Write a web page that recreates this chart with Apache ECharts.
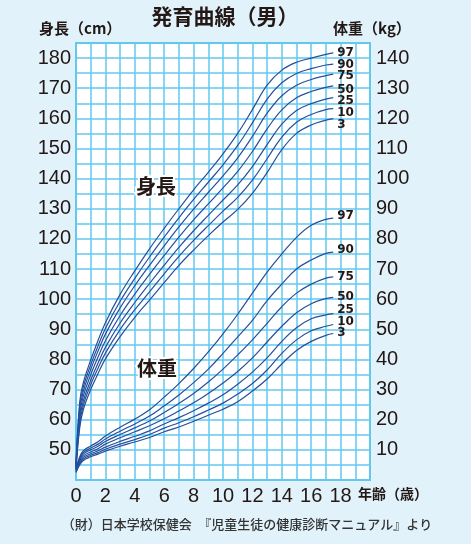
<!DOCTYPE html>
<html>
<head>
<meta charset="utf-8">
<script src="https://cdn.jsdelivr.net/npm/echarts@6/dist/echarts.min.js"></script>
<style>
  html, body { margin: 0; padding: 0; background: #e1f2fb; }
  #chart { width: 471px; height: 544px; }
</style>
</head>
<body>
<div id="chart"></div>
<script>
// age (years) for every point of the curves
const ages = [0, 0.25, 0.5, 1, 1.5, 2, 3, 4, 5, 6, 7, 8, 9, 10, 11, 12, 13, 14, 15, 16, 17, 17.5];

// height percentiles (cm)
const height3  = [43.5, 57.2, 63.4, 70.0, 75.3, 80.2, 87.6, 94.0, 99.7, 105.5, 111.2, 116.3, 121.1, 125.6, 129.8, 135.1, 142.0, 149.6, 155.0, 157.8, 159.4, 159.9];
const height10 = [43.8, 58.6, 64.8, 71.6, 77.1, 82.1, 89.9, 96.5, 102.4, 108.4, 114.2, 119.5, 124.4, 129.2, 133.8, 139.5, 146.6, 153.8, 158.7, 161.3, 162.9, 163.2];
const height25 = [44.1, 60.0, 66.3, 73.1, 78.8, 84.0, 92.1, 98.9, 105.2, 111.3, 117.2, 122.7, 127.8, 132.9, 137.9, 144.0, 151.3, 158.1, 162.6, 164.9, 166.4, 166.9];
const height50 = [44.4, 61.5, 67.9, 74.9, 80.8, 86.2, 94.6, 101.7, 108.2, 114.5, 120.6, 126.3, 131.6, 136.9, 142.4, 149.0, 156.5, 162.8, 166.8, 168.9, 170.3, 170.8];
const height75 = [44.7, 63.0, 69.5, 76.7, 82.8, 88.4, 97.1, 104.5, 111.2, 117.7, 124.0, 129.9, 135.4, 140.9, 146.9, 154.0, 161.7, 167.5, 171.0, 172.9, 174.2, 174.7];
const height90 = [45.0, 64.4, 71.0, 78.2, 84.5, 90.3, 99.3, 106.9, 114.0, 120.6, 127.0, 133.1, 138.8, 144.6, 151.0, 158.5, 166.4, 171.8, 174.9, 176.5, 177.7, 178.0];
const height97 = [45.3, 65.8, 72.4, 79.8, 86.3, 92.2, 101.6, 109.4, 116.7, 123.5, 130.0, 136.3, 142.1, 148.2, 155.0, 162.9, 171.0, 176.0, 178.6, 180.0, 181.2, 181.7];

// weight percentiles (kg)
const weight3  = [2.5, 5.0, 6.5, 7.7, 8.6, 9.6, 11.2, 12.6, 14.1, 16.0, 17.6, 19.5, 21.5, 23.5, 26.0, 29.5, 33.5, 38.5, 43.0, 46.0, 48.0, 48.6];
const weight10 = [2.7, 5.4, 7.0, 8.2, 9.1, 10.2, 11.9, 13.4, 15.1, 17.2, 19.0, 21.0, 23.2, 25.5, 28.5, 32.0, 36.5, 42.0, 46.5, 49.5, 51.0, 51.6];
const weight25 = [2.9, 5.8, 7.5, 8.7, 9.7, 10.9, 12.8, 14.5, 16.3, 18.6, 20.7, 23.0, 25.5, 28.3, 31.8, 35.8, 40.5, 46.0, 50.5, 53.5, 54.8, 55.2];
const weight50 = [3.1, 6.3, 8.0, 9.3, 10.4, 11.9, 14.0, 16.0, 18.0, 20.3, 22.9, 25.6, 28.7, 32.2, 36.0, 40.5, 45.8, 51.0, 55.5, 58.5, 60.2, 60.6];
const weight75 = [3.3, 6.8, 8.6, 10.0, 11.2, 12.8, 15.1, 17.3, 19.6, 22.4, 25.4, 28.7, 32.5, 36.8, 41.5, 46.5, 52.0, 57.5, 62.0, 65.0, 67.0, 67.4];
const weight90 = [3.6, 7.2, 9.1, 10.6, 11.9, 13.6, 16.2, 18.6, 21.2, 24.6, 28.2, 32.3, 36.8, 42.0, 47.5, 53.0, 59.5, 65.0, 70.0, 73.0, 75.2, 75.6];
const weight97 = [3.9, 7.6, 9.7, 11.3, 12.7, 14.6, 17.5, 20.2, 23.3, 27.5, 32.0, 37.0, 42.5, 48.5, 55.0, 62.0, 69.0, 75.0, 80.5, 84.5, 86.5, 86.9];

const percentiles = ['97', '90', '75', '50', '25', '10', '3'];
const heightSets = [height97, height90, height75, height50, height25, height10, height3];
const weightSets = [weight97, weight90, weight75, weight50, weight25, weight10, weight3];

// small vertical nudges of the percentile labels
const heightLabelDy = [0, 1, 2, 4, 3, 4, 6];
const weightLabelDy = [-2, -2, 0, 0, -4, -3, -1];

const gridColor = '#62c9f0';
const lineColor = '#24509c';
const textColor = '#231815';
const numFont = '"Liberation Sans Narrow", "Liberation Sans", sans-serif';
const jpFont = '"Noto Sans CJK JP", sans-serif';

function pairs(values) {
  return ages.map((a, i) => [a, values[i]]);
}

function curve(values, name, axis, dy) {
  return {
    type: 'line',
    name: name,
    yAxisIndex: axis,
    data: pairs(values),
    smooth: 0.4,
    symbol: 'none',
    silent: true,
    lineStyle: { color: lineColor, width: 1.2 },
    endLabel: {
      show: true,
      formatter: p => p.seriesName,
      color: textColor,
      fontSize: 12,
      fontWeight: 'bold',
      fontFamily: '"DejaVu Sans", sans-serif',
      distance: 4,
      offset: [0, dy]
    }
  };
}

const series = [];
percentiles.forEach((p, i) => {
  series.push(curve(heightSets[i], p, 0, heightLabelDy[i]));
  series.push(curve(weightSets[i], p, 1, weightLabelDy[i]));
});

// in-plot captions get a white halo so the grid does not run through them
function caption(text, x, y) {
  return {
    type: 'text', z: 100,
    style: {
      text: text, x: x, y: y, textAlign: 'center', textVerticalAlign: 'middle',
      font: 'bold 20px ' + jpFont, fill: textColor, stroke: '#ffffff', lineWidth: 4
    }
  };
}

const chart = echarts.init(document.getElementById('chart'));
const option = {
  backgroundColor: '#e1f2fb',
  animation: false,
  grid: {
    left: 76,
    right: 101,
    top: 43,
    bottom: 64,
    show: true,
    backgroundColor: '#ffffff',
    borderColor: gridColor,
    borderWidth: 2
  },
  xAxis: {
    type: 'value',
    min: 0,
    max: 20,
    interval: 1,
    axisLine: { show: false },
    axisTick: { show: false },
    splitLine: { lineStyle: { color: gridColor, width: 1.5 } },
    axisLabel: {
      formatter: v => (v % 2 === 0 && v <= 18 ? String(v) : ''),
      fontSize: 20,
      fontFamily: numFont,
      color: textColor,
      margin: 6
    }
  },
  yAxis: [
    {
      type: 'value',
      position: 'left',
      min: 40,
      max: 185,
      interval: 5,
      axisLine: { show: false },
      axisTick: { show: false },
      splitLine: { lineStyle: { color: gridColor, width: 1.5 } },
      axisLabel: {
        formatter: v => (v % 10 === 0 && v >= 50 && v <= 180 ? String(v) : ''),
        fontSize: 20,
        fontFamily: numFont,
        color: textColor,
        margin: 5
      }
    },
    {
      type: 'value',
      position: 'right',
      min: 0,
      max: 145,
      interval: 5,
      axisLine: { show: false },
      axisTick: { show: false },
      splitLine: { show: false },
      axisLabel: {
        formatter: v => (v % 10 === 0 && v >= 10 && v <= 140 ? String(v) : ''),
        fontSize: 20,
        fontFamily: numFont,
        color: textColor,
        margin: 6
      }
    }
  ],
  graphic: [
    { type: 'text', style: { text: '発育曲線（男）', x: 225, y: 16, textAlign: 'center', textVerticalAlign: 'middle', font: 'bold 21px ' + jpFont, fill: textColor } },
    { type: 'text', style: { text: '身長（cm）', x: 39, y: 28, textAlign: 'left', textVerticalAlign: 'middle', font: 'bold 15px ' + jpFont, fill: textColor } },
    { type: 'text', style: { text: '体重（kg）', x: 333, y: 28, textAlign: 'left', textVerticalAlign: 'middle', font: 'bold 15px ' + jpFont, fill: textColor } },
    { type: 'text', style: { text: '年齢（歳）', x: 358, y: 494, textAlign: 'left', textVerticalAlign: 'middle', font: 'bold 14px ' + jpFont, fill: textColor } },
    { type: 'text', style: { text: '（財）日本学校保健会　『児童生徒の健康診断マニュアル』より', x: 247, y: 524, textAlign: 'center', textVerticalAlign: 'middle', font: '500 13px ' + jpFont, fill: '#333333' } },
    caption('身長', 156, 186),
    caption('体重', 157, 368)
  ],
  series: series
};
chart.setOption(option);
</script>
</body>
</html>
